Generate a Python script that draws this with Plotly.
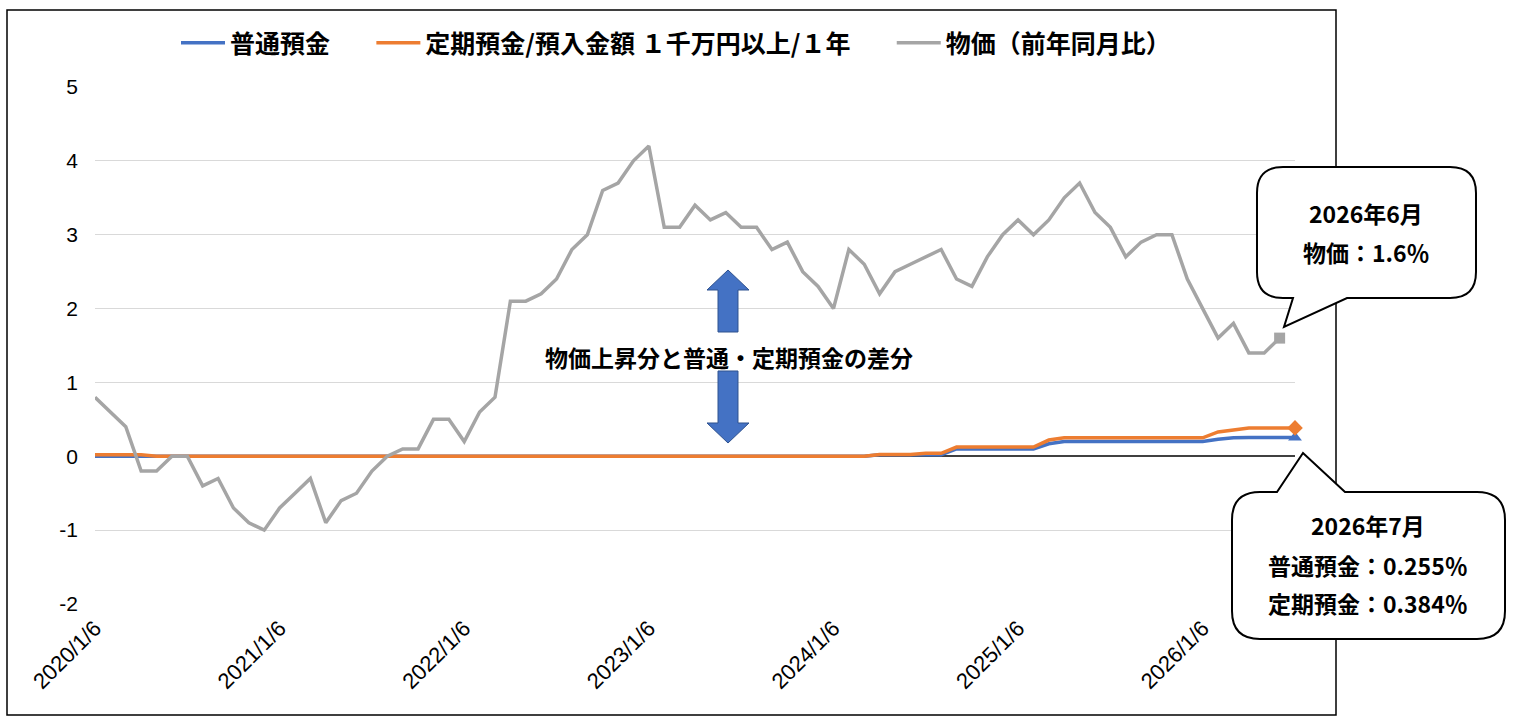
import plotly.graph_objects as go

# months from 2020/1 to 2026/7 (x labels as in the source sheet)
dates = [f"{y}/{m}/6" for y in range(2020, 2027) for m in range(1, 13)][:79]
tick_labels = ["2020/1/6", "2021/1/6", "2022/1/6", "2023/1/6", "2024/1/6", "2025/1/6", "2026/1/6"]
y_ticks = [-2, -1, 0, 1, 2, 3, 4, 5]
y_tick_text = ["-2", "-1", "0", "1", "2", "3", "4", "5"]

# 普通預金 (%)
futsu = [0.001, 0.001, 0.001, 0.001, 0.001, 0.001, 0.001, 0.001, 0.001, 0.001, 0.001, 0.001,
         0.001, 0.001, 0.001, 0.001, 0.001, 0.001, 0.001, 0.001, 0.001, 0.001, 0.001, 0.001,
         0.001, 0.001, 0.001, 0.001, 0.001, 0.001, 0.001, 0.001, 0.001, 0.001, 0.001, 0.001,
         0.001, 0.001, 0.001, 0.001, 0.001, 0.001, 0.001, 0.001, 0.001, 0.001, 0.001, 0.001,
         0.001, 0.001, 0.001, 0.02, 0.02, 0.02, 0.02, 0.02, 0.1, 0.1, 0.1, 0.1,
         0.1, 0.1, 0.17, 0.2, 0.2, 0.2, 0.2, 0.2, 0.2, 0.2, 0.2, 0.2,
         0.2, 0.23, 0.25, 0.255, 0.255, 0.255, 0.255]

# 定期預金/預入金額 1千万円以上/1年 (%)
teiki = [0.02, 0.02, 0.02, 0.02, 0.002, 0.002, 0.002, 0.002, 0.002, 0.002, 0.002, 0.002,
         0.002, 0.002, 0.002, 0.002, 0.002, 0.002, 0.002, 0.002, 0.002, 0.002, 0.002, 0.002,
         0.002, 0.002, 0.002, 0.002, 0.002, 0.002, 0.002, 0.002, 0.002, 0.002, 0.002, 0.002,
         0.002, 0.002, 0.002, 0.002, 0.002, 0.002, 0.002, 0.002, 0.002, 0.002, 0.002, 0.002,
         0.002, 0.002, 0.002, 0.025, 0.025, 0.025, 0.04, 0.04, 0.125, 0.125, 0.125, 0.125,
         0.125, 0.125, 0.22, 0.25, 0.25, 0.25, 0.25, 0.25, 0.25, 0.25, 0.25, 0.25,
         0.25, 0.33, 0.36, 0.384, 0.384, 0.384, 0.384]

# 物価（前年同月比）(%), up to 2026/6
bukka = [0.8, 0.6, 0.4, -0.2, -0.2, 0.0, 0.0, -0.4, -0.3, -0.7, -0.9, -1.0,
         -0.7, -0.5, -0.3, -0.9, -0.6, -0.5, -0.2, 0.0, 0.1, 0.1, 0.5, 0.5,
         0.2, 0.6, 0.8, 2.1, 2.1, 2.2, 2.4, 2.8, 3.0, 3.6, 3.7, 4.0,
         4.2, 3.1, 3.1, 3.4, 3.2, 3.3, 3.1, 3.1, 2.8, 2.9, 2.5, 2.3,
         2.0, 2.8, 2.6, 2.2, 2.5, 2.6, 2.7, 2.8, 2.4, 2.3, 2.7, 3.0,
         3.2, 3.0, 3.2, 3.5, 3.7, 3.3, 3.1, 2.7, 2.9, 3.0, 3.0, 2.4,
         2.0, 1.6, 1.8, 1.4, 1.4, 1.6]

BLUE = "#4472C4"
ORANGE = "#ED7D31"
GRAY = "#A5A5A5"
FONT = "Noto Sans CJK JP"
TICKFONT = "Liberation Sans, Arial, sans-serif"

W, H = 1518, 727
L, R, T, B = 95, 1295, 87, 604


def px(x):
    return (x - L) / (R - L)


def py(y):
    return (B - y) / (B - T)


def pt(x, y):
    return f"{px(x):.5f},{py(y):.5f}"


GAP = "\u3000\u00a0\u00a0"  # wider spacing between legend entries

fig = go.Figure()

fig.add_trace(go.Scatter(x=dates, y=futsu, mode="lines", name="普通預金" + GAP,
                         line=dict(color=BLUE, width=3.5)))
fig.add_trace(go.Scatter(x=dates, y=teiki, mode="lines", name="定期預金/預入金額 １千万円以上/１年" + GAP,
                         line=dict(color=ORANGE, width=3.5)))
fig.add_trace(go.Scatter(x=dates[:len(bukka)], y=bukka, mode="lines", name="物価（前年同月比）",
                         line=dict(color=GRAY, width=3.5)))

# end markers
fig.add_trace(go.Scatter(x=[dates[-1]], y=[futsu[-1]], mode="markers", showlegend=False,
                         cliponaxis=False,
                         marker=dict(symbol="triangle-up", color=BLUE, size=12)))
fig.add_trace(go.Scatter(x=[dates[-1]], y=[teiki[-1]], mode="markers", showlegend=False,
                         cliponaxis=False,
                         marker=dict(symbol="diamond", color=ORANGE, size=12)))
fig.add_trace(go.Scatter(x=[dates[len(bukka) - 1]], y=[bukka[-1]], mode="markers", showlegend=False,
                         cliponaxis=False,
                         marker=dict(symbol="square", color=GRAY, size=11)))

shapes = []
# outer chart frame
shapes.append(dict(type="rect", xref="paper", yref="paper",
                   x0=px(7), x1=px(1336), y0=py(715), y1=py(10),
                   line=dict(color="#000000", width=1.5), layer="below"))


def bubble(l, r, t, b, rad, tail):
    # rounded box with a pointer; tail = (side, a, tip_x, tip_y, c)
    side, a, tx, ty, c = tail
    p = f"M{pt(l + rad, t)}"
    if side == "top":
        p += f" L{pt(a, t)} L{pt(tx, ty)} L{pt(c, t)}"
    p += f" L{pt(r - rad, t)} Q{pt(r, t)} {pt(r, t + rad)}"
    p += f" L{pt(r, b - rad)} Q{pt(r, b)} {pt(r - rad, b)}"
    if side == "bottom":
        p += f" L{pt(c, b)} L{pt(tx, ty)} L{pt(a, b)}"
    p += f" L{pt(l + rad, b)} Q{pt(l, b)} {pt(l, b - rad)}"
    p += f" L{pt(l, t + rad)} Q{pt(l, t)} {pt(l + rad, t)} Z"
    return dict(type="path", xref="paper", yref="paper", path=p,
                fillcolor="white", line=dict(color="#000000", width=2), layer="above")


shapes.append(bubble(1257, 1476, 167, 298, 26, ("bottom", 1293, 1284, 327, 1347)))
shapes.append(bubble(1232, 1505, 492, 639, 28, ("top", 1277, 1303, 453, 1345)))

# up / down block arrows
cx = 728
up = (f"M{pt(cx, 270)} L{pt(cx + 21, 290)} L{pt(cx + 10, 290)} L{pt(cx + 10, 332)}"
      f" L{pt(cx - 10, 332)} L{pt(cx - 10, 290)} L{pt(cx - 21, 290)} Z")
down = (f"M{pt(cx, 443)} L{pt(cx + 21, 423)} L{pt(cx + 10, 423)} L{pt(cx + 10, 371)}"
        f" L{pt(cx - 10, 371)} L{pt(cx - 10, 423)} L{pt(cx - 21, 423)} Z")
for p in (up, down):
    shapes.append(dict(type="path", xref="paper", yref="paper", path=p,
                       fillcolor=BLUE, line=dict(color="#2F528F", width=1), layer="above"))

annotations = []


def label(x, y, text, size=23):
    annotations.append(dict(xref="paper", yref="paper", x=px(x), y=py(y), text=text,
                            showarrow=False, xanchor="center", yanchor="middle",
                            font=dict(family=FONT, size=size, color="#000000", weight="bold")))


label(729, 357, "物価上昇分と普通・定期預金の差分")
label(1366, 213, "2026年6月")
label(1366, 252, "物価：1.6％")
label(1368, 525, "2026年7月")
label(1368, 565, "普通預金：0.255％")
label(1368, 603, "定期預金：0.384％")

fig.update_layout(
    width=W, height=H,
    margin=dict(l=L, r=W - R, t=T, b=H - B),
    plot_bgcolor="white", paper_bgcolor="white",
    font=dict(family=FONT, color="#000000"),
    showlegend=True,
    legend=dict(orientation="h", x=px(176), y=py(43), xanchor="left", yanchor="middle",
                font=dict(family=FONT, size=25, color="#000000", weight="bold"),
                itemwidth=44, bgcolor="rgba(0,0,0,0)"),
    shapes=shapes,
    annotations=annotations,
)

fig.update_xaxes(type="category", range=[0, len(dates) - 1],
                 tickmode="array", tickvals=tick_labels, ticktext=tick_labels,
                 tickangle=-45, tickfont=dict(family=TICKFONT, size=22, color="#000000"),
                 ticklabelstandoff=6,
                 showgrid=False, showline=False, ticks="", zeroline=False)
fig.update_yaxes(range=[-2, 5], tickmode="array", tickvals=y_ticks, ticktext=y_tick_text,
                 showgrid=True, gridcolor="#D9D9D9", gridwidth=1,
                 zeroline=True, zerolinecolor="#404040", zerolinewidth=1.5,
                 tickfont=dict(family=TICKFONT, size=21, color="#000000"),
                 ticklabelstandoff=16, showline=False, ticks="")

fig.write_html("out.html", config={"displayModeBar": False},
               post_script="document.body.style.margin='0';")
